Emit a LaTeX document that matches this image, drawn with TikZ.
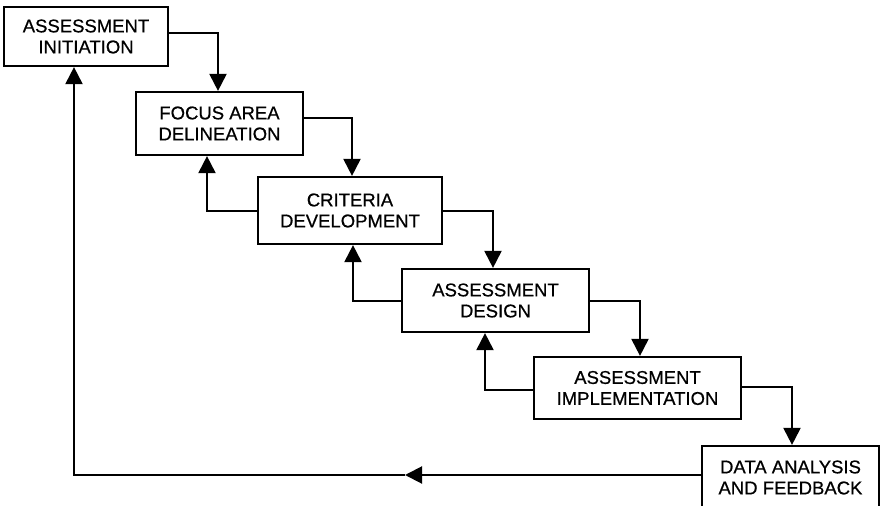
\documentclass[tikz,border=0pt]{standalone}
\usepackage{fontspec}
\setmainfont{Liberation Sans}
\newfontfamily\stagefont{Liberation Sans}[FakeBold=0.6]
\usetikzlibrary{arrows.meta}
\begin{document}
\begin{tikzpicture}[x=1pt,y=-1pt,
  stage/.style={draw, line width=2.2pt, align=center, inner sep=0pt,
    font=\stagefont\fontsize{18.5}{21}\selectfont},
  flow/.style={line width=2pt, -{Triangle[length=17pt,width=17pt]}}]
\useasboundingbox (0,0) rectangle (881,506);
\clip (0,0) rectangle (881,506);

% stages
\node[stage, minimum width=164pt, minimum height=59pt] (b1) at (86,36.5) {ASSESSMENT\\INITIATION};
\node[stage, minimum width=167pt, minimum height=63pt] (b2) at (219.5,123.5) {FOCUS AREA\\DELINEATION};
\node[stage, minimum width=184pt, minimum height=67pt] (b3) at (350,210.5) {CRITERIA\\DEVELOPMENT};
\node[stage, minimum width=187pt, minimum height=63pt] (b4) at (495.5,300.5) {ASSESSMENT\\DESIGN};
\node[stage, minimum width=207pt, minimum height=62pt] (b5) at (637.5,388) {ASSESSMENT\\IMPLEMENTATION};
\node[stage, minimum width=177pt, minimum height=63pt] (b6) at (790.5,477.5) {DATA ANALYSIS\\AND FEEDBACK};

% forward flow
\draw[flow] ([yshift=3.5pt]b1.east) -| ([xshift=-1.5pt]b2.north);
\draw[flow] ([yshift=5.5pt]b2.east) -| ([xshift=2pt]b3.north);
\draw[flow] (b3.east) -| ([xshift=-2.5pt]b4.north);
\draw[flow] (b4.east) -| ([xshift=2.5pt]b5.north);
\draw[flow] ([yshift=1pt]b5.east) -| ([xshift=1.5pt]b6.north);

% feedback to the previous stage
\draw[flow] (b3.west) -| ([xshift=-12.5pt]b2.south);
\draw[flow] (b4.west) -| ([xshift=3pt]b3.south);
\draw[flow] ([yshift=-2pt]b5.west) -| ([xshift=-10.5pt]b4.south);

% feedback to initiation
\coordinate (ret) at (405,475);
\draw[flow] ([yshift=2.5pt]b6.west) -- (ret);
\draw[flow] (ret) -| ([xshift=-12pt]b1.south);
\end{tikzpicture}
\end{document}
